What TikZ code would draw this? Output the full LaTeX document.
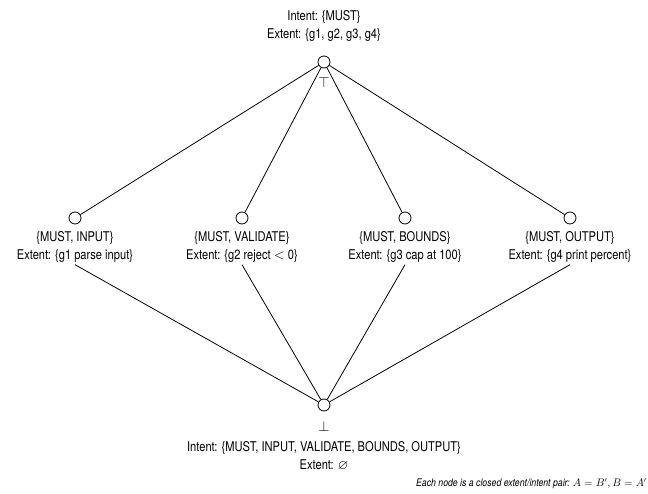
\documentclass[tikz,border=0pt]{standalone}
\usepackage{amssymb}
\usepackage{fontspec}
\setmainfont{TeX Gyre Heros}[FakeStretch=0.83]
\begin{document}
\begin{tikzpicture}[x=1pt,y=-1pt,
  vtx/.style={circle,draw,line width=0.8pt,minimum size=12pt,inner sep=0pt},
  lbl/.style={align=center,inner sep=2pt,font=\fontsize{13.4}{18}\selectfont},
  sym/.style={inner sep=0pt,font=\fontsize{15}{18}\selectfont},
  edge/.style={line width=0.8pt}]
\useasboundingbox (0,0) rectangle (648,494);
\node[vtx] (top) at (324,62) {};
\node[lbl] (tl) at (324,26) {Intent: \{MUST\}\\Extent: \{g1, g2, g3, g4\}};
\node[sym] (ts) at (324,83) {$\top$};
\node[vtx] (m1) at (75,218) {};
\node[vtx] (m2) at (242,218) {};
\node[vtx] (m3) at (405,218) {};
\node[vtx] (m4) at (570,218) {};
\node[lbl] (l1) at (75,247) {\{MUST, INPUT\}\\Extent: \{g1 parse input\}};
\node[lbl] (l2) at (242,247) {\{MUST, VALIDATE\}\\Extent: \{g2 reject $<$ 0\}};
\node[lbl] (l3) at (405,247) {\{MUST, BOUNDS\}\\Extent: \{g3 cap at 100\}};
\node[lbl] (l4) at (570,247) {\{MUST, OUTPUT\}\\Extent: \{g4 print percent\}};
\node[vtx] (bot) at (324,405) {};
\node[sym] (bs) at (324,426) {$\bot$};
\node[lbl] (bl) at (324,456) {Intent: \{MUST, INPUT, VALIDATE, BOUNDS, OUTPUT\}\\Extent: $\varnothing$};
\node[anchor=east,inner sep=0pt,font=\fontsize{10.5}{12}\selectfont\itshape] (note) at (647,484) {Each node is a closed extent/intent pair: $A = B', B = A'$};
\foreach \m in {m1,m2,m3,m4} \draw[edge] (top) -- (\m);
\foreach \l in {l1,l2,l3,l4} \draw[edge] (bot) -- (\l.south);
\end{tikzpicture}
\end{document}
